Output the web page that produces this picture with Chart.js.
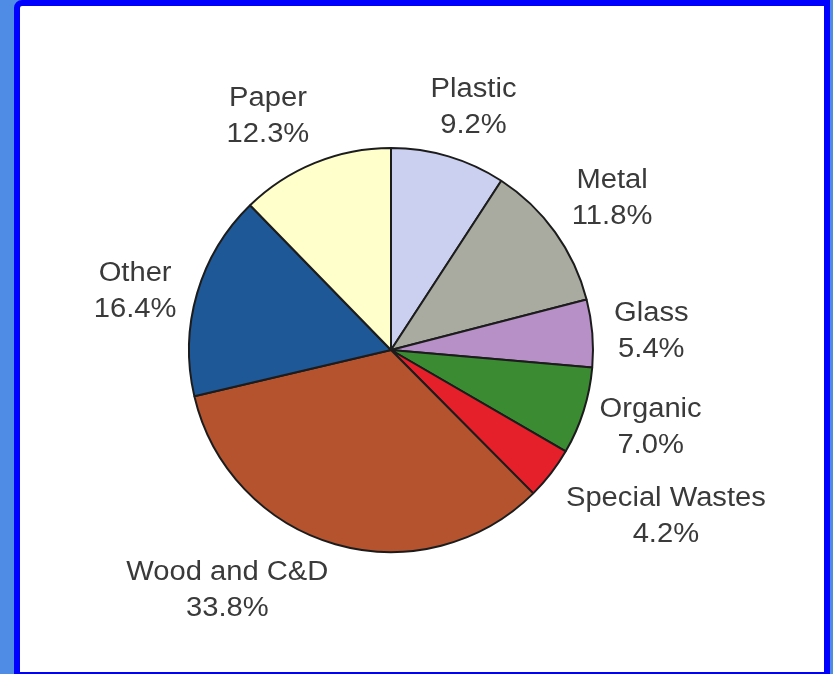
<!doctype html>
<html>

<head>
	<title>Waste composition pie</title>
	<script src="https://cdn.jsdelivr.net/npm/chart.js@4.4.1/dist/chart.umd.min.js"></script>
	<style>
		html, body { margin: 0; padding: 0; width: 833px; height: 674px; overflow: hidden; background: #4f8ce6; }
		#frame {
			position: absolute; left: 14px; top: 0; width: 816px; height: 678px;
			box-sizing: border-box; border: 6px solid #0000ff; border-top-left-radius: 8px;
			background: #fff;
		}
		#chart-area { position: absolute; left: 0; top: 0; }
	</style>
</head>

<body>
	<div id="frame"></div>
	<canvas id="chart-area" width="833" height="674"></canvas>

	<script>
		// slices, clockwise from 12 o'clock
		var categories = ['Plastic', 'Metal', 'Glass', 'Organic', 'Special Wastes', 'Wood and C&D', 'Other', 'Paper'];
		var shares = [9.2, 11.8, 5.4, 7.0, 4.2, 33.8, 16.4, 12.3];
		var sliceColors = ['#cbcff0', '#a9aba1', '#b690c6', '#3b8b32', '#e6202b', '#b4532e', '#1f5896', '#ffffcc'];

		// where each label sits, nudged from the slice's outer edge (px)
		var labelNudge = [
			[25, -49], [57, -34], [59, -2], [67, 17],
			[115, 43], [-108, 46], [-62, -2], [-47, -46],
		];

		var sliceLabels = {
			id: 'sliceLabels',
			afterDatasetsDraw(chart) {
				var ctx = chart.ctx;
				var arcs = chart.getDatasetMeta(0).data;
				ctx.save();
				ctx.fillStyle = '#3a3a3a';
				ctx.font = '27px "Liberation Sans", Arial, sans-serif';
				ctx.textAlign = 'center';
				ctx.textBaseline = 'middle';
				arcs.forEach((arc, i) => {
					var mid = (arc.startAngle + arc.endAngle) / 2;
					var x = arc.x + Math.cos(mid) * arc.outerRadius + labelNudge[i][0];
					var y = arc.y + Math.sin(mid) * arc.outerRadius + labelNudge[i][1];
					ctx.save();
					ctx.translate(x, y);
					ctx.scale(1.08, 1);
					ctx.fillText(categories[i], 0, -18);
					ctx.fillText(shares[i].toFixed(1) + '%', 0, 18);
					ctx.restore();
				});
				ctx.restore();
			}
		};

		var ctx = document.getElementById('chart-area').getContext('2d');
		var chart = new Chart(ctx, {
			type: 'pie',
			data: {
				labels: categories,
				datasets: [{
					data: shares,
					backgroundColor: sliceColors,
					borderColor: '#1c1c1c',
					borderWidth: 2,
					hoverOffset: 0,
				}],
			},
			options: {
				responsive: false,
				animation: false,
				devicePixelRatio: 1,
				layout: { padding: { left: 0, right: 51, top: 147, bottom: 121 } },
				plugins: {
					legend: { display: false },
					tooltip: { enabled: false },
				},
			},
			plugins: [sliceLabels],
		});
	</script>
</body>

</html>
